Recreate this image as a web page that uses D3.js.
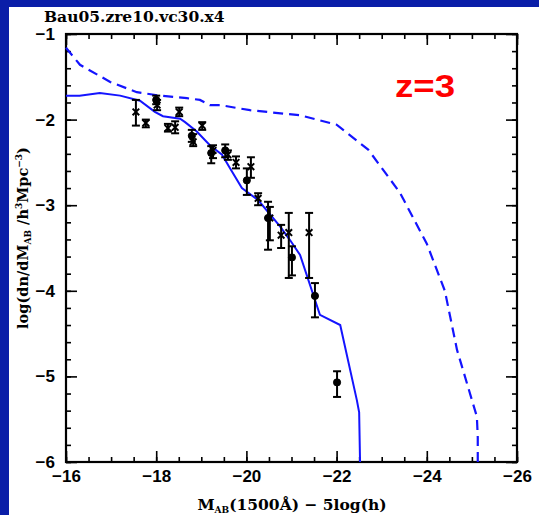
<!DOCTYPE html>
<html>
<head>
<meta charset="utf-8">
<script src="https://cdn.jsdelivr.net/npm/d3@7"></script>
<style>
  body { margin: 0; background: #0a1ea8; }
  svg { display: block; }
</style>
</head>
<body>
<div id="chart"></div>
<script>
const w = 539, h = 515;
const padL = 66, padR = 517, padT = 34, padB = 462;

// model luminosity functions
const solidM   = [-16.0,-16.3,-16.75,-17.2,-17.64,-17.97,-18.15,-18.53,-18.64,-18.9,-19.19,-19.46,-19.64,-19.9,-20.26,-20.75,-20.97,-21.19,-21.63,-22.08,-22.45,-22.5,-22.52];
const solidPhi = [-1.72,-1.72,-1.69,-1.72,-1.78,-1.91,-1.96,-1.99,-2.03,-2.14,-2.30,-2.41,-2.57,-2.80,-2.94,-3.25,-3.41,-3.58,-4.28,-4.40,-5.28,-5.42,-6.0];
const dashM    = [-16.0,-16.31,-16.98,-17.57,-18.08,-18.68,-18.97,-19.19,-19.41,-20.08,-21.2,-22.0,-22.7,-23.4,-24.0,-24.4,-24.67,-24.89,-25.11,-25.13,-25.13];
const dashPhi  = [-1.16,-1.36,-1.56,-1.68,-1.72,-1.75,-1.77,-1.83,-1.83,-1.89,-1.95,-2.06,-2.35,-2.85,-3.45,-4.0,-4.69,-5.08,-5.47,-5.71,-6.0];

// observed points
const obsM   = [-17.55,-17.77,-18.0,-18.02,-18.26,-18.42,-18.51,-18.79,-18.82,-19.02,-19.22,-19.26,-19.53,-19.59,-19.77,-20.01,-20.10,-20.26,-20.48,-20.52,-20.77,-20.94,-21.01,-21.39,-21.52,-22.01];
const obsPhi = [-1.91,-2.04,-1.77,-1.83,-2.10,-2.09,-1.91,-2.19,-2.26,-2.07,-2.39,-2.36,-2.36,-2.41,-2.50,-2.71,-2.55,-2.92,-3.15,-3.15,-3.35,-3.32,-3.61,-3.32,-4.06,-5.07];
const obsHi  = [-1.77,-2.00,-1.72,-1.77,-2.05,-2.02,-1.86,-2.12,-2.17,-2.03,-2.31,-2.30,-2.29,-2.36,-2.43,-2.57,-2.44,-2.86,-2.96,-3.02,-3.23,-3.09,-3.48,-3.09,-3.91,-4.94];
const obsLo  = [-2.07,-2.09,-1.82,-1.89,-2.14,-2.16,-1.96,-2.26,-2.31,-2.12,-2.51,-2.45,-2.44,-2.47,-2.57,-2.88,-2.68,-3.00,-3.52,-3.41,-3.50,-3.85,-3.82,-3.85,-4.31,-5.24];
const obsFilled = [0,0,1,0,0,0,0,1,0,0,1,0,1,0,0,1,0,0,1,0,0,0,1,0,1,1];

const xTicks = [-16,-18,-20,-22,-24,-26];
const yTicks = [-1,-2,-3,-4,-5,-6];

const svg = d3.select('#chart').append('svg')
  .attr('width', w).attr('height', h);

svg.append('rect').attr('x', 9).attr('y', 7)
  .attr('width', w - 9).attr('height', h - 7).attr('fill', '#fff');

const x = d3.scaleLinear().domain([-16, -26]).range([padL, padR]);
const y = d3.scaleLinear().domain([-6, -1]).range([padB, padT]);

const tickFont = g => g.selectAll('text')
  .attr('font-family', 'Liberation Sans, Arial, sans-serif')
  .attr('font-size', 17).attr('font-weight', 'bold').attr('fill', '#000');
const clean = g => { g.select('.domain').remove(); g.selectAll('line').attr('stroke', '#000').attr('stroke-width', 1.6); };

const xMinor = d3.range(-16, -26.01, -0.5);
const yMinor = d3.range(-1, -6.01, -0.2);

// bottom
svg.append('g').attr('transform', `translate(0,${padB})`)
  .call(d3.axisBottom(x).tickValues(xMinor).tickSize(-5).tickFormat(''))
  .call(clean);
svg.append('g').attr('transform', `translate(0,${padB})`)
  .call(d3.axisBottom(x).tickValues(xTicks).tickSize(-11).tickPadding(8).tickFormat(d3.format('d')))
  .call(clean).call(tickFont);
// top
svg.append('g').attr('transform', `translate(0,${padT})`)
  .call(d3.axisTop(x).tickValues(xMinor).tickSize(-5).tickFormat(''))
  .call(clean);
svg.append('g').attr('transform', `translate(0,${padT})`)
  .call(d3.axisTop(x).tickValues(xTicks).tickSize(-11).tickFormat(''))
  .call(clean);
// left
svg.append('g').attr('transform', `translate(${padL},0)`)
  .call(d3.axisLeft(y).tickValues(yMinor).tickSize(-5).tickFormat(''))
  .call(clean);
svg.append('g').attr('transform', `translate(${padL},0)`)
  .call(d3.axisLeft(y).tickValues(yTicks).tickSize(-11).tickPadding(11).tickFormat(d3.format('d')))
  .call(clean).call(tickFont);
// right
svg.append('g').attr('transform', `translate(${padR},0)`)
  .call(d3.axisRight(y).tickValues(yMinor).tickSize(-5).tickFormat(''))
  .call(clean);
svg.append('g').attr('transform', `translate(${padR},0)`)
  .call(d3.axisRight(y).tickValues(yTicks).tickSize(-11).tickFormat(''))
  .call(clean);

svg.append('rect').attr('x', padL).attr('y', padT)
  .attr('width', padR - padL).attr('height', padB - padT)
  .attr('fill', 'none').attr('stroke', '#000').attr('stroke-width', 2.2);

const line = d3.line().x(d => x(d[0])).y(d => y(d[1]));

svg.append('path').datum(d3.zip(solidM, solidPhi))
  .attr('d', line).attr('fill', 'none')
  .attr('stroke', '#1414ff').attr('stroke-width', 2);
svg.append('path').datum(d3.zip(dashM, dashPhi))
  .attr('d', line).attr('fill', 'none')
  .attr('stroke', '#1414ff').attr('stroke-width', 2.2)
  .attr('stroke-dasharray', '10,6');

// error bars
const obs = obsM.map((m, i) => ({m, p: obsPhi[i], hi: obsHi[i], lo: obsLo[i], f: obsFilled[i]}));
const eb = svg.append('g').attr('stroke', '#000').attr('stroke-width', 2);
obs.forEach(d => {
  const cx = x(d.m);
  eb.append('line').attr('x1', cx).attr('x2', cx).attr('y1', y(d.hi)).attr('y2', y(d.lo));
  eb.append('line').attr('x1', cx - 4).attr('x2', cx + 4).attr('y1', y(d.hi)).attr('y2', y(d.hi));
  eb.append('line').attr('x1', cx - 4).attr('x2', cx + 4).attr('y1', y(d.lo)).attr('y2', y(d.lo));
});
svg.selectAll('.pt').data(obs).enter().append('path')
  .attr('class', 'pt')
  .attr('transform', d => `translate(${x(d.m)},${y(d.p)})`)
  .attr('d', d => d.f ? d3.symbol(d3.symbolCircle, 40)() : d3.symbol(d3.symbolTimes, 30)())
  .attr('fill', d => d.f ? '#000' : 'none')
  .attr('stroke', '#000').attr('stroke-width', d => d.f ? 1 : 2);

// labels
svg.append('text').attr('x', 44).attr('y', 22)
  .attr('font-family', 'DejaVu Serif, serif').attr('font-weight', 'bold').attr('font-size', 15.5)
  .text('Bau05.zre10.vc30.x4');

svg.append('text').attr('x', 395).attr('y', 97)
  .attr('font-family', 'Liberation Sans, Arial, sans-serif').attr('font-weight', 'bold')
  .attr('font-size', 32).attr('fill', '#ff0000')
  .attr('textLength', 60).attr('lengthAdjust', 'spacingAndGlyphs').text('z=3');

const xt = svg.append('text').attr('x', 292).attr('y', 510).attr('text-anchor', 'middle')
  .attr('font-family', 'DejaVu Serif, serif').attr('font-weight', 'bold').attr('font-size', 15.5);
xt.append('tspan').text('M');
xt.append('tspan').attr('font-size', 9).attr('dy', 3).text('AB');
xt.append('tspan').attr('dy', -3).text('(1500Å) \u2212 5log(h)');

const yt = svg.append('text').attr('transform', 'translate(28,238) rotate(-90)')
  .attr('text-anchor', 'middle')
  .attr('font-family', 'DejaVu Serif, serif').attr('font-weight', 'bold').attr('font-size', 14.5);
yt.append('tspan').text('log(dn/dM');
yt.append('tspan').attr('font-size', 9).attr('dy', 3).text('AB');
yt.append('tspan').attr('dy', -3).text(' /h');
yt.append('tspan').attr('font-size', 9).attr('dy', -6).text('3');
yt.append('tspan').attr('dy', 6).text('Mpc');
yt.append('tspan').attr('font-size', 9).attr('dy', -6).text('\u22123');
yt.append('tspan').attr('dy', 6).text(')');
</script>
</body>
</html>
